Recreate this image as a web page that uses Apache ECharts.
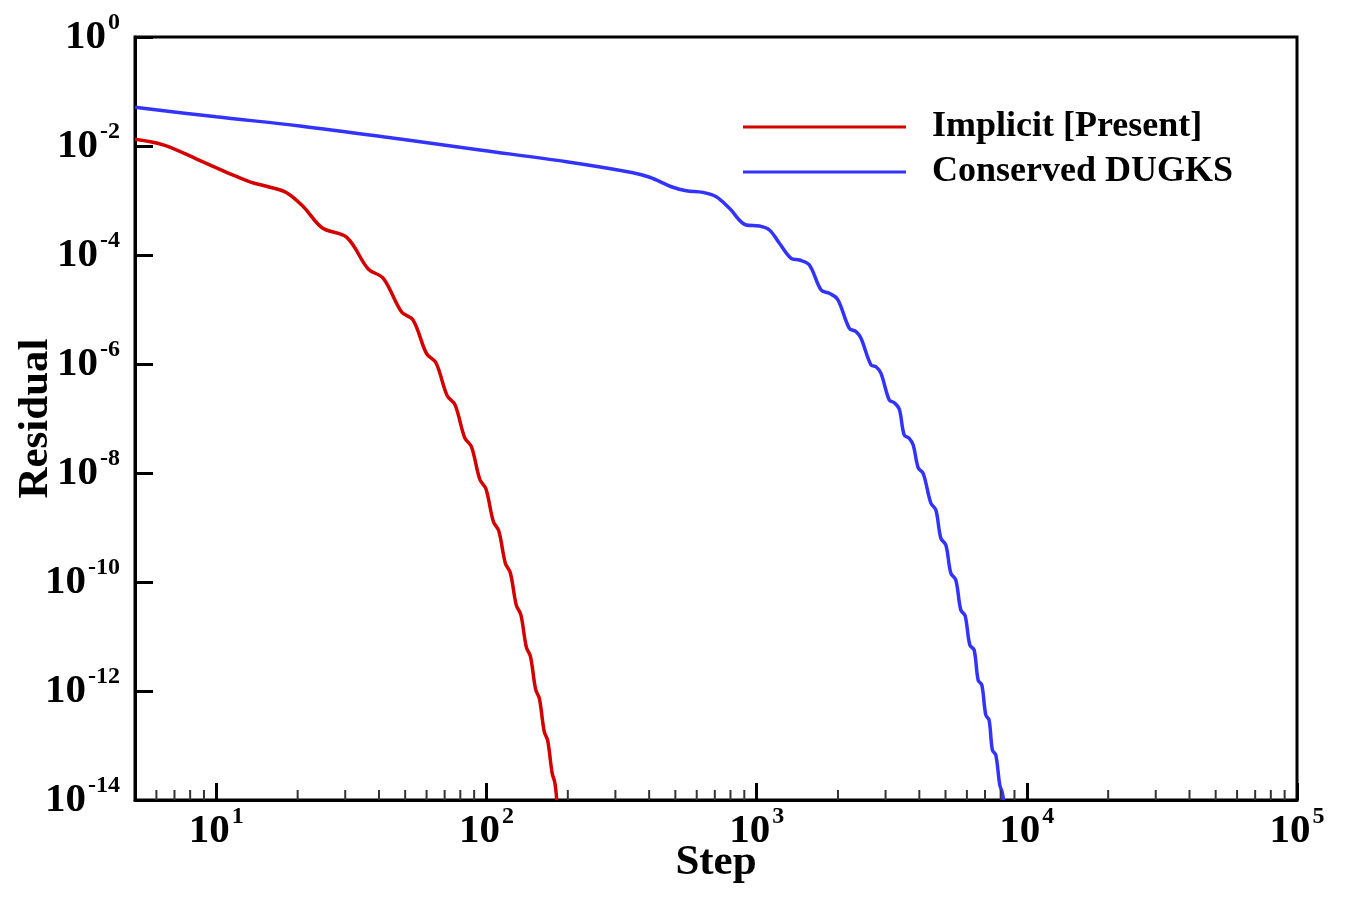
<!DOCTYPE html>
<html>
<head>
<meta charset="utf-8">
<script src="https://cdn.jsdelivr.net/npm/echarts@6/dist/echarts.min.js"></script>
<style>
html,body{margin:0;padding:0;background:#fff;}
#chart{width:1351px;height:900px;}
</style>
</head>
<body>
<div id="chart"></div>
<script>
// ---- data ----
const seriesNames = ['Implicit [Present]', 'Conserved DUGKS'];

const implicitStep = [5, 6.4, 8.5, 11.3, 13.4, 15.8, 18.2, 21.0, 24.7, 30.4, 36.5, 41.5, 48.5, 53.5, 60, 65, 71.5, 76.5, 83, 88, 94.5, 99.5, 106, 111, 117.5, 122.5, 129, 134, 140.5, 145.5, 152, 157, 163.5, 168.5, 175, 179, 182];
const implicitResidual = [1.33e-2, 1.04e-2, 5.7e-3, 3.06e-3, 2.18e-3, 1.75e-3, 1.39e-3, 7.7e-4, 3.13e-4, 2.11e-4, 5.53e-5, 3.73e-5, 9.0e-6, 6.41e-6, 1.55e-6, 1.05e-6, 2.63e-7, 1.78e-7, 4.47e-8, 3.02e-8, 7.59e-9, 5.13e-9, 1.29e-9, 8.71e-10, 2.19e-10, 1.48e-10, 3.72e-11, 2.51e-11, 6.31e-12, 4.27e-12, 1.07e-12, 7.24e-13, 1.82e-13, 1.23e-13, 3.09e-14, 2.09e-14, 1e-14];

const conservedStep = [5, 10, 20.4, 47.9, 94.5, 197.7, 348.5, 401.8, 489.8, 549, 632, 708.6, 793, 914.6, 1024, 1115, 1214, 1341, 1440, 1567, 1732, 1858, 1994, 2203, 2332, 2433, 2649, 2765, 2885, 3096, 3230, 3371, 3517, 3670, 3797, 3963, 4135, 4415, 4606, 4806, 5015, 5233, 5459, 5697, 5909, 6152, 6382, 6603, 6813, 7048, 7249, 7455, 7675, 7941, 8098, 8201];
const conservedResidual = [5.13e-2, 3.43e-2, 2.33e-2, 1.34e-2, 8.45e-3, 5.15e-3, 3.24e-3, 2.67e-3, 1.75e-3, 1.51e-3, 1.41e-3, 1.17e-3, 7.19e-4, 3.55e-4, 3.40e-4, 2.88e-4, 1.64e-4, 8.70e-5, 8.09e-5, 6.56e-5, 2.28e-5, 1.98e-5, 1.54e-5, 4.52e-6, 3.92e-6, 2.96e-6, 9.59e-7, 8.91e-7, 6.75e-7, 2.18e-7, 1.95e-7, 1.49e-7, 4.98e-8, 4.33e-8, 3.27e-8, 1.24e-8, 9.8e-9, 2.78e-9, 2.09e-9, 6.34e-10, 4.78e-10, 1.45e-10, 1.09e-10, 3.06e-11, 2.41e-11, 6.98e-12, 5.65e-12, 1.59e-12, 1.29e-12, 3.63e-13, 2.94e-13, 8.26e-14, 6.70e-14, 1.88e-14, 1.40e-14, 1e-14];

const xMinorTickValues = [6, 7, 8, 9, 20, 30, 40, 50, 60, 70, 80, 90, 200, 300, 400, 500, 600, 700, 800, 900, 2000, 3000, 4000, 5000, 6000, 7000, 8000, 9000, 20000, 30000, 40000, 50000, 60000, 70000, 80000, 90000];

const xName = 'Step';
const yName = 'Residual';

// ---- chart ----
const FONT = '"Liberation Serif", "Times New Roman", serif';
function richPow(supSize) {
  return {
    b: {fontFamily: FONT, fontWeight: 'bold', fontSize: 41, lineHeight: 52, color: '#000'},
    s: {fontFamily: FONT, fontWeight: 'bold', fontSize: supSize, lineHeight: supSize, color: '#000', verticalAlign: 'top', padding: [0, 0, 0, 2]}
  };
}
function powLabel(value) {
  const e = Math.log10(value);
  if (Math.abs(e - Math.round(e)) > 1e-6) return '';
  return '{b|10}{s|' + Math.round(e) + '}';
}
function zip(xs, ys) { return xs.map((x, i) => [x, ys[i]]); }

const chart = echarts.init(document.getElementById('chart'));
chart.setOption({
  animation: false,
  backgroundColor: '#fff',
  grid: {left: 135, right: 54, top: 37, bottom: 100, containLabel: false, outerBoundsMode: 'none',
         show: true, borderColor: '#000', borderWidth: 3, backgroundColor: 'transparent'},
  legend: {
    data: seriesNames,
    orient: 'vertical',
    left: 743,
    top: 109,
    padding: 0,
    itemGap: 9,
    itemWidth: 163,
    itemHeight: 3,
    icon: 'rect',
    textStyle: {fontFamily: FONT, fontWeight: 'bold', fontSize: 36, lineHeight: 36, color: '#000', padding: [0, 0, 0, 21]}
  },
  xAxis: {
    type: 'log',
    logBase: 10,
    min: 5,
    max: 100000,
    name: xName,
    nameLocation: 'middle',
    nameGap: 41,
    nameMoveOverlap: false,
    nameTextStyle: {fontFamily: FONT, fontWeight: 'bold', fontSize: 43, lineHeight: 43, color: '#000'},
    axisLine: {show: true, lineStyle: {color: '#000', width: 3}},
    axisTick: {show: true, inside: true, length: 17, lineStyle: {color: '#000', width: 3}},
    minorTick: {show: false},
    splitLine: {show: false},
    axisLabel: {margin: 5, formatter: powLabel, rich: richPow(24)}
  },
  yAxis: {
    type: 'log',
    logBase: 10,
    min: 1e-14,
    max: 1,
    interval: 2,
    name: yName,
    nameLocation: 'middle',
    nameRotate: 90,
    nameGap: 78,
    nameMoveOverlap: false,
    nameTextStyle: {fontFamily: FONT, fontWeight: 'bold', fontSize: 43, lineHeight: 43, color: '#000'},
    axisLine: {show: true, lineStyle: {color: '#000', width: 3}},
    axisTick: {show: true, inside: true, length: 18, lineStyle: {color: '#000', width: 3}},
    minorTick: {show: false},
    splitLine: {show: false},
    axisLabel: {margin: 15, formatter: powLabel, rich: richPow(24)}
  },
  series: [
    {
      name: seriesNames[0],
      type: 'line',
      data: zip(implicitStep, implicitResidual),
      showSymbol: false,
      symbol: 'none',
      smooth: 0.35,
      lineStyle: {color: '#d40000', width: 3.5},
      itemStyle: {color: '#d40000'},
      z: 3
    },
    {
      name: seriesNames[1],
      type: 'line',
      data: zip(conservedStep, conservedResidual),
      showSymbol: false,
      symbol: 'none',
      smooth: 0.35,
      lineStyle: {color: '#3333ff', width: 3.5},
      itemStyle: {color: '#3333ff'},
      z: 2
    },
    {
      name: 'xMinorTicks',
      type: 'custom',
      silent: true,
      clip: false,
      data: xMinorTickValues.map(v => [v, 1e-14]),
      encode: {x: 0, y: 1},
      renderItem: function (params, api) {
        const p = api.coord([api.value(0), api.value(1)]);
        return {
          type: 'line',
          shape: {x1: p[0], y1: p[1], x2: p[0], y2: p[1] - 10},
          style: {stroke: '#333', lineWidth: 2}
        };
      },
      z: 4
    }
  ]
});
</script>
</body>
</html>
